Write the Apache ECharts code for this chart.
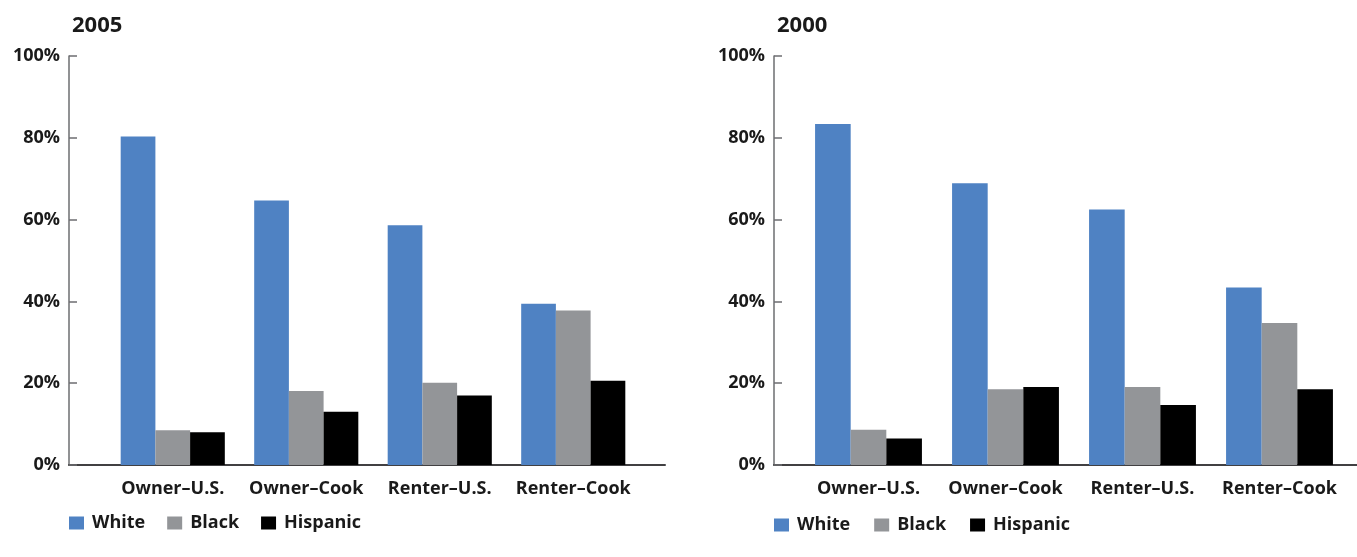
<!DOCTYPE html>
<html>
<head>
<meta charset="utf-8">
<script src="https://cdn.jsdelivr.net/npm/echarts@6/dist/echarts.min.js"></script>
<style>
html,body{margin:0;padding:0;background:#fff;}
#c{width:1357px;height:557px;}
</style>
</head>
<body>
<div id="c"></div>
<script>
const categories = ['Owner\u2013U.S.', 'Owner\u2013Cook', 'Renter\u2013U.S.', 'Renter\u2013Cook'];
const seriesNames = ['White', 'Black', 'Hispanic'];
const yTicks = [0, 20, 40, 60, 80, 100];

const white2005 = [80.3, 64.7, 58.6, 39.4];
const black2005 = [8.5, 18.1, 20.1, 37.8];
const hispanic2005 = [8.0, 13.0, 17.0, 20.6];

const white2000 = [83.4, 68.9, 62.5, 43.4];
const black2000 = [8.6, 18.5, 19.1, 34.7];
const hispanic2000 = [6.5, 19.1, 14.7, 18.5];

const colors = ['#4f82c3', '#939598', '#000000'];
const FONT = '"Open Sans", "Noto Sans", sans-serif';
const TXT = '#1a1a1a';

const chart = echarts.init(document.getElementById('c'), null, {renderer: 'canvas'});

function axisGridY(gridIndex) {
  return {
    type: 'value', gridIndex, min: yTicks[0], max: yTicks[yTicks.length - 1], interval: 20,
    axisLine: {show: true, lineStyle: {color: '#6d6e71', width: 1.5}},
    axisTick: {show: true, inside: true, length: 8, lineStyle: {color: '#6d6e71', width: 1.5}},
    axisLabel: {formatter: '{value}%', color: TXT, fontFamily: FONT, fontWeight: 'bold', fontSize: 18, margin: 9},
    splitLine: {show: false}
  };
}
function hiddenY(gridIndex) {
  return {type: 'value', gridIndex, min: 0, max: 100, show: false};
}
function axisGridX(gridIndex) {
  return {
    type: 'value', gridIndex, min: 0, max: 1,
    axisLine: {show: true, onZero: false, lineStyle: {color: '#414042', width: 2}},
    axisTick: {show: false}, axisLabel: {show: false}, splitLine: {show: false}
  };
}
function catX(gridIndex) {
  return {
    type: 'category', gridIndex, data: categories,
    axisLine: {show: false}, axisTick: {show: false},
    axisLabel: {interval: 0, color: TXT, fontFamily: FONT, fontWeight: 'bold', fontSize: 18, margin: 15}
  };
}
function bars(name, data, idx, color) {
  return {
    name, type: 'bar', data, xAxisIndex: idx, yAxisIndex: idx,
    itemStyle: {color}, barGap: '0%', barCategoryGap: '22%', silent: true
  };
}

const legendText = {fontFamily: FONT, fontWeight: 'bold', fontSize: 18, color: TXT, padding: [0, 0, 0, 3]};

chart.setOption({
  animation: false,
  title: [
    {text: '2005', left: 67, top: 10, textStyle: {fontFamily: FONT, fontWeight: 'bold', fontSize: 22, color: TXT}},
    {text: '2000', left: 772, top: 10, textStyle: {fontFamily: FONT, fontWeight: 'bold', fontSize: 22, color: TXT}}
  ],
  legend: [
    {data: seriesNames, left: 69, top: 514, padding: 0, itemWidth: 15, itemHeight: 13, itemGap: 22, icon: 'rect',
     textStyle: legendText},
    {data: seriesNames, left: 774, top: 516, padding: 0, itemWidth: 15, itemHeight: 13, itemGap: 24, icon: 'rect',
     textStyle: legendText}
  ],
  grid: [
    {left: 69, top: 56, width: 596, height: 409},
    {left: 106, top: 56, width: 534, height: 409},
    {left: 774, top: 56, width: 583, height: 409},
    {left: 800, top: 56, width: 548, height: 409}
  ],
  xAxis: [axisGridX(0), catX(1), axisGridX(2), catX(3)],
  yAxis: [axisGridY(0), hiddenY(1), axisGridY(2), hiddenY(3)],
  series: [
    bars('White', white2005, 1, colors[0]),
    bars('Black', black2005, 1, colors[1]),
    bars('Hispanic', hispanic2005, 1, colors[2]),
    bars('White', white2000, 3, colors[0]),
    bars('Black', black2000, 3, colors[1]),
    bars('Hispanic', hispanic2000, 3, colors[2])
  ]
});
</script>
</body>
</html>
